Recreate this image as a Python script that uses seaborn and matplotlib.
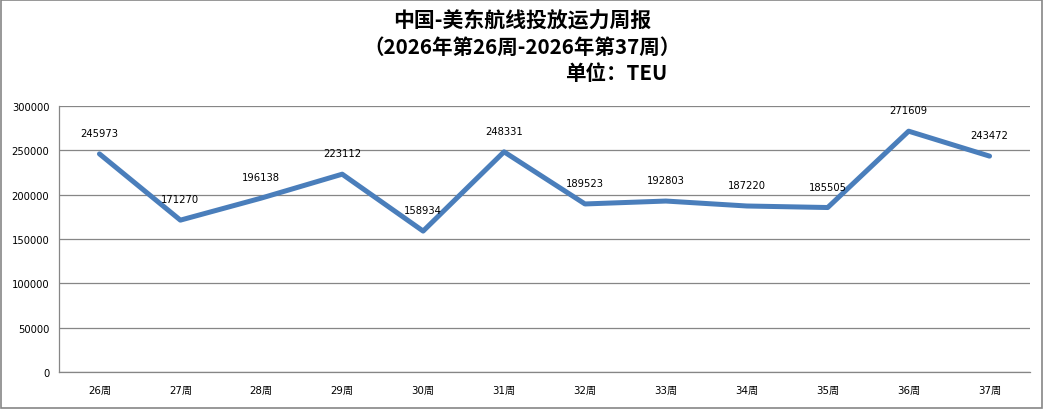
import matplotlib
matplotlib.use("Agg")
import matplotlib.pyplot as plt
import seaborn as sns
import pandas as pd
import numpy as np

weeks = ["26周", "27周", "28周", "29周", "30周", "31周", "32周", "33周", "34周", "35周", "36周", "37周"]
capacity = [245973, 171270, 196138, 223112, 158934, 248331, 189523, 192803, 187220, 185505, 271609, 243472]
yticks = [0, 50000, 100000, 150000, 200000, 250000, 300000]

sns.set_theme(style="white")
plt.rcParams['font.family'] = ['DejaVu Sans', 'Noto Sans CJK SC']
plt.rcParams['text.color'] = 'black'
plt.rcParams['xtick.labelcolor'] = 'black'
plt.rcParams['ytick.labelcolor'] = 'black'

df = pd.DataFrame({"week": weeks, "teu": capacity})
fig = plt.figure(figsize=(10.44, 4.10), dpi=100)
ax = fig.add_axes([59/1044, 37/410, (1030-59)/1044, (373-107)/410])

sns.lineplot(data=df, x="week", y="teu", ax=ax, color="#4A7EBB", linewidth=3.6, sort=False)

for i, v in enumerate(capacity):
    ax.annotate(str(v), (i, v), xytext=(0, 15), textcoords="offset points",
                ha="center", va="center", fontsize=7.2, color="black")

ax.set_ylim(0, 300000)
ax.set_xlim(-0.5, len(weeks) - 0.5)
ax.set_yticks(yticks)
ax.set_yticklabels([str(t) for t in yticks], fontsize=7.2, color="black")
ax.set_xticks(range(len(weeks)))
ax.set_xticklabels(weeks, fontsize=7.4, color="black")
ax.set_xticks(np.arange(-0.5, len(weeks), 1.0), minor=True)
ax.tick_params(axis="x", which="major", length=0, pad=9)
ax.tick_params(axis="x", which="minor", length=4, color="#868686", direction="out")
ax.tick_params(axis="y", which="major", length=4, color="#868686", direction="out", pad=3)
ax.set_xlabel("")
ax.set_ylabel("")
ax.yaxis.grid(True, color="#868686", linewidth=0.9)
ax.set_axisbelow(True)
for s in ["top", "right"]:
    ax.spines[s].set_visible(False)
for s in ["left", "bottom"]:
    ax.spines[s].set_color("#868686")
    ax.spines[s].set_linewidth(0.9)

title_font = ['Noto Sans CJK SC', 'DejaVu Sans']
fig.text(522/1044, 1 - 21/410, "中国-美东航线投放运力周报", ha="center", va="center",
         fontsize=15, fontweight="bold", family=title_font, color="black")
fig.text(522/1044, 1 - 47/410, "（2026年第26周-2026年第37周）", ha="center", va="center",
         fontsize=14.8, fontweight="bold", family=title_font, color="black")
fig.text(667/1044, 1 - 74/410, "单位：TEU", ha="right", va="center",
         fontsize=14.8, fontweight="bold", family=title_font, color="black")

border = plt.Rectangle((0.001, 0.002), 0.997, 0.995, transform=fig.transFigure,
                       fill=False, edgecolor="#868686", linewidth=1.2)
fig.patches.append(border)

fig.savefig("out.png", dpi=100)
